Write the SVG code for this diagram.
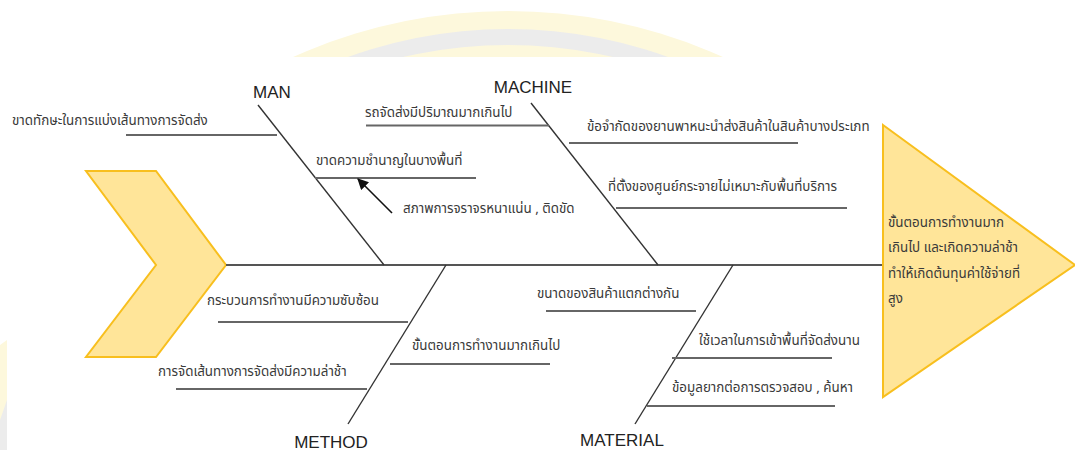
<svg xmlns="http://www.w3.org/2000/svg" width="1075" height="450" viewBox="0 0 1075 450">
<defs>
<style>
.bone{stroke:#333;stroke-width:1.4;fill:none}
.branch{stroke:#666;stroke-width:2;fill:none}
.spine{stroke:#555;stroke-width:1.8;fill:none}
.t{font-family:"Noto Sans Thai","Noto Sans","Liberation Sans",sans-serif;font-size:13.4px;fill:#3a3a3a}
.lbl{font-family:"Liberation Sans","DejaVu Sans",sans-serif;font-size:17px;fill:#222;text-anchor:middle}
.shape{fill:#FFE599;stroke:#F8BF1E;stroke-width:2}
</style>
<clipPath id="wmclip"><rect x="0" y="0" width="1075" height="57"/></clipPath>
<marker id="ah" viewBox="0 0 10 10" refX="9" refY="5" markerWidth="7" markerHeight="7" orient="auto"><path d="M0,0 L10,5 L0,10 z" fill="#111"/></marker>
</defs>
<rect x="0" y="0" width="1075" height="450" fill="#fff"/>
<g id="watermark" clip-path="url(#wmclip)">
<circle cx="508" cy="536" r="525" fill="#FDF8DC"/>
<circle cx="508" cy="500" r="471" fill="#ECECEC"/>
<circle cx="508" cy="510" r="465" fill="#FDF8DC"/>
</g>
<polygon points="0,345 7,340 7,450 0,450" fill="#FDF8DC"/>
<polygon points="0,420 7,400 7,450 0,450" fill="#ECECEC"/>
<g id="head-left"><polygon class="shape" points="86,171 156,171 226,265 156,357 86,357 156,265"/></g>
<g id="connectors">
<line class="spine" x1="226" y1="265" x2="882" y2="265"/>
<line class="bone" x1="258" y1="105" x2="384" y2="265"/>
<line class="bone" x1="531" y1="103" x2="658" y2="265"/>
<line class="bone" x1="446" y1="265" x2="348" y2="424"/>
<line class="bone" x1="733" y1="265" x2="635" y2="424"/>
<line class="branch" x1="126" y1="135" x2="277" y2="135"/>
<line class="branch" x1="315" y1="178" x2="476" y2="178"/>
<line class="branch" x1="366" y1="125.5" x2="549" y2="125.5"/>
<line class="branch" x1="569" y1="143" x2="798" y2="143"/>
<line class="branch" x1="616" y1="208" x2="847" y2="208"/>
<line class="branch" x1="218" y1="322" x2="408" y2="322"/>
<line class="branch" x1="390" y1="364" x2="550" y2="364"/>
<line class="branch" x1="176" y1="389" x2="367" y2="389"/>
<line class="branch" x1="546" y1="311" x2="696" y2="311"/>
<line class="branch" x1="672" y1="358" x2="832" y2="358"/>
<line class="branch" x1="647" y1="406" x2="835" y2="406"/>
<line x1="392" y1="213" x2="358" y2="179" stroke="#111" stroke-width="1.6" marker-end="url(#ah)"/>
</g>
<g id="result"><polygon class="shape" points="883,125 1075,265 883,397"/>
<text class="t" x="888" y="227">ขั้นตอนการทำงานมาก</text>
<text class="t" x="888" y="252">เกินไป และเกิดความล่าช้า</text>
<text class="t" x="888" y="278">ทำให้เกิดต้นทุนค่าใช้จ่ายที่</text>
<text class="t" x="888" y="303">สูง</text>
</g>
<g id="man"><text class="lbl" x="272" y="98">MAN</text>
<text class="t" x="12" y="125">ขาดทักษะในการแบ่งเส้นทางการจัดส่ง</text>
<text class="t" x="316" y="165">ขาดความชำนาญในบางพื้นที่</text>
<text class="t" x="403" y="213">สภาพการจราจรหนาแน่น , ติดขัด</text>
</g>
<g id="machine"><text class="lbl" x="533" y="93">MACHINE</text>
<text class="t" x="365" y="117">รถจัดส่งมีปริมาณมากเกินไป</text>
<text class="t" x="587" y="131">ข้อจำกัดของยานพาหนะนำส่งสินค้าในสินค้าบางประเภท</text>
<text class="t" x="608" y="191">ที่ตั้งของศูนย์กระจายไม่เหมาะกับพื้นที่บริการ</text>
</g>
<g id="method"><text class="lbl" x="331" y="448">METHOD</text>
<text class="t" x="207" y="305">กระบวนการทำงานมีความซับซ้อน</text>
<text class="t" x="412" y="350">ขั้นตอนการทำงานมากเกินไป</text>
<text class="t" x="158" y="376">การจัดเส้นทางการจัดส่งมีความล่าช้า</text>
</g>
<g id="material"><text class="lbl" x="622" y="446">MATERIAL</text>
<text class="t" x="537" y="298">ขนาดของสินค้าแตกต่างกัน</text>
<text class="t" x="699" y="345">ใช้เวลาในการเข้าพื้นที่จัดส่งนาน</text>
<text class="t" x="672" y="392">ข้อมูลยากต่อการตรวจสอบ , ค้นหา</text>
</g>
</svg>
